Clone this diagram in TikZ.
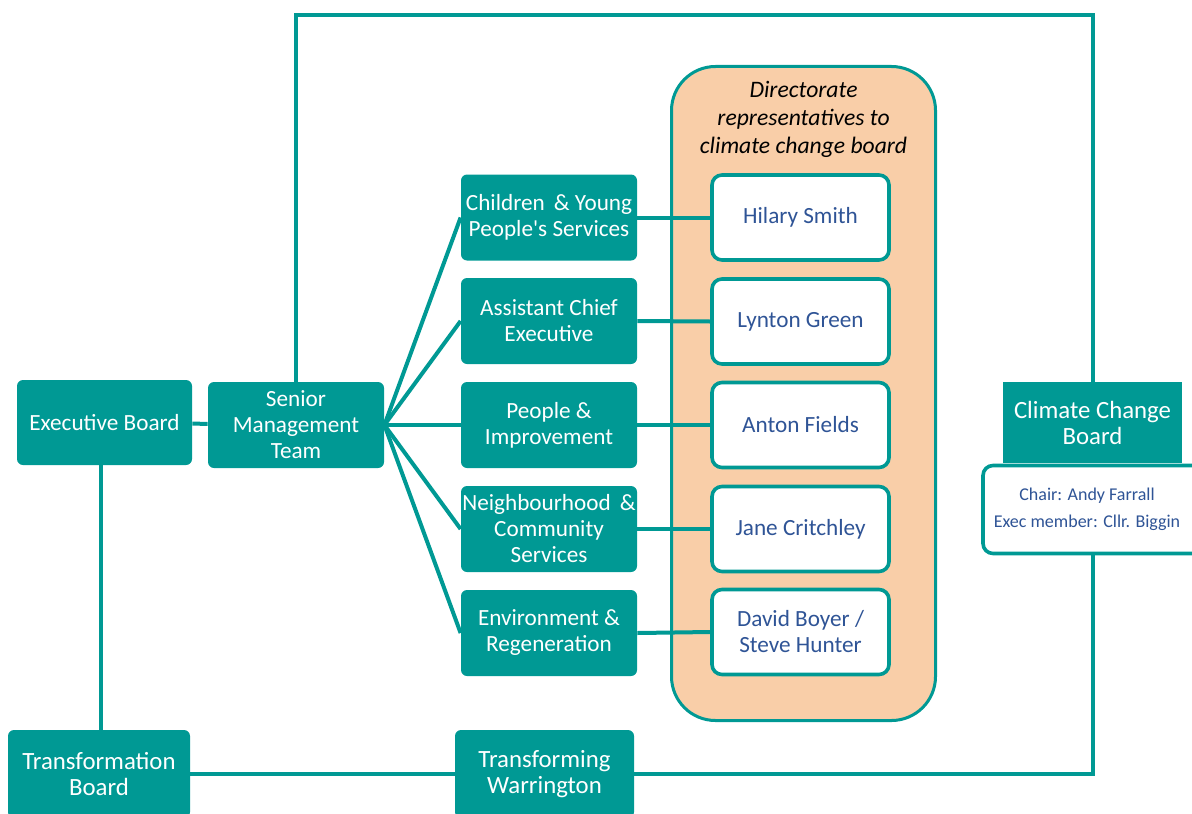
\documentclass[tikz,border=0pt]{standalone}
\usepackage{fontspec}
\setmainfont{Carlito}
\definecolor{wbcteal}{RGB}{0,153,148}
\definecolor{wbcpeach}{RGB}{249,206,168}
\definecolor{wbcblue}{RGB}{47,84,150}
\begin{document}
\begin{tikzpicture}
[x=0.5pt,y=-0.5pt,%
  every node/.style={font=\fontsize{11.6}{13}\selectfont,align=center,inner sep=0pt},%
  board/.style={fill=wbcteal,text=white,rounded corners=3pt,minimum width=88pt,minimum height=43pt},%
  bigboard/.style={board,font=\fontsize{12.4}{13}\selectfont},%
  rep/.style={draw=wbcteal,fill=white,text=wbcblue,line width=1.8pt,rounded corners=5pt,minimum width=88.5pt,minimum height=42.5pt},%
  link/.style={draw=wbcteal,line width=2pt}]
\useasboundingbox (0,0) rectangle (1192,813);
\clip (0,0) rectangle (1192,813);
% directorate panel
\node[draw=wbcteal,fill=wbcpeach,line width=1.5pt,rounded corners=22pt,
  minimum width=132pt,minimum height=327pt] (dir) at (803.5,393.5) {};
\node[font=\fontsize{11.8}{14}\selectfont\itshape] (dirtitle) at (803.5,119)
  {Directorate\\representatives to\\climate change board};
% boards
\node[board,minimum width=87.5pt,minimum height=42.5pt] (exec) at (104.5,422.5) {Executive Board};
\node[board] (smt) at (296,425) {Senior\\Management\\Team};
\node[bigboard,minimum width=91pt,minimum height=44pt] (tb) at (99,774) {Transformation\\Board};
\node[bigboard,minimum width=89.5pt,minimum height=44pt] (tw) at (544.5,774) {Transforming\\Warrington};
% directorates
\node[board] (cyps) at (549,217.5) {Children \,\& Young\\People\textquotesingle s Services};
\node[board] (ace) at (549,321) {Assistant Chief\\Executive};
\node[board] (pai) at (549,425) {People \&\\Improvement};
\node[board] (ncs) at (549,529) {Neighbourhood \,\&\\Community\\Services};
\node[board] (er) at (549,633) {Environment \&\\Regeneration};
% representatives
\node[rep] (hs) at (800.5,217.5) {Hilary Smith};
\node[rep] (lg) at (800.5,321.5) {Lynton Green};
\node[rep] (af) at (800.5,425) {Anton Fields};
\node[rep] (jc) at (800.5,529) {Jane Critchley};
\node[rep] (dbsh) at (800.5,632) {David Boyer /\\Steve Hunter};
% climate change board
\node[draw=wbcteal,fill=white,line width=1.8pt,rounded corners=5pt,
  minimum width=110pt,minimum height=44pt,text=wbcblue,
  font=\fontsize{9}{13.5}\selectfont] (ccbinfo) at (1093,509.5)
  {\hspace*{-6pt}Chair: Andy Farrall\\\hspace*{-6pt}Exec member: Cllr. Biggin};
\node[bigboard,rounded corners=0pt,minimum width=89.5pt,minimum height=40.5pt] (ccb) at (1092.5,422.5)
  {Climate Change\\Board};
% connectors
\coordinate (ebdrop) at ([xshift=-2pt]exec.south);
\draw[link] (exec) -- (smt);
\draw[link] (ebdrop) -- (ebdrop |- tb.north);
\draw[link] (tb) -- (tw);
\draw[link] (smt.north) -- ++(0,-367) -| (ccb.north);
\draw[link] (ccbinfo.south) |- (tw.east);
\foreach \d/\r in {cyps/hs,ace/lg,pai/af,ncs/jc,er/dbsh}{
  \draw[link] (smt.east) -- (\d.west);
  \draw[link] (\d.east) -- (\r.west);
}
\end{tikzpicture}
\end{document}
